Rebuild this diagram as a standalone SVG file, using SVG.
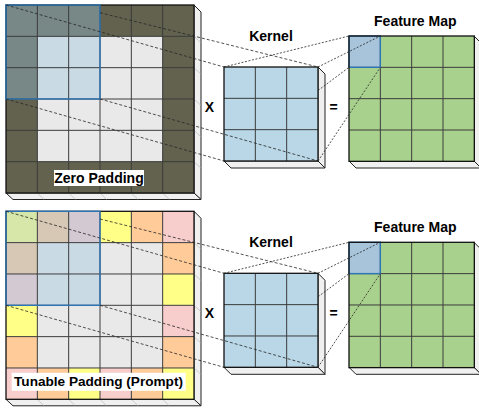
<svg xmlns="http://www.w3.org/2000/svg" width="479" height="410" viewBox="0 0 479 410">
<defs>
<style>
.lbl{font-family:"Liberation Sans",Arial,sans-serif;font-weight:bold;font-size:14px;fill:#000}
.face{fill:#f0f0f0;stroke:#222;stroke-width:1}
.tick{stroke:#b0b0b0;stroke-width:0.6;fill:none}
.grid{stroke:#3c3c3c;stroke-width:1;fill:none}
.outer{fill:none;stroke:#111;stroke-width:1.3}
.win{fill:none;stroke:#2e75b6;stroke-width:1.4}
.ov{fill:#99c3dc;fill-opacity:0.4}
.olive{fill:#62624f}
.inner{fill:#e9e9e9}
.Y{fill:#ffff88}
.O{fill:#ffcc99}
.P{fill:#f8cecc}
.kern{fill:#b9d7e6}
.fm{fill:#a9d18e}
.fmc{fill:#a7c4da}
.dl{fill:none;stroke:#262626;stroke-width:0.8;stroke-dasharray:3 2}
.dk{fill:none;stroke:#262626;stroke-width:0.8;stroke-dasharray:2 1.6}
</style>
</defs>

<!-- Top section -->
<g id="input-zero-padding">
  <polygon class="face" points="194,5 201,12 201,199.5 194,193"/>
  <polygon class="face" points="6,193 194,193 201,199.5 13,199.5"/>
  <path class="tick" d="M37.33,193 l6.7,6.5 M68.67,193 l6.7,6.5 M100,193 l6.7,6.5 M131.33,193 l6.7,6.5 M162.67,193 l6.7,6.5 M194,36.33 l7,6.5 M194,67.67 l7,6.5 M194,99 l7,6.5 M194,130.33 l7,6.5 M194,161.67 l7,6.5"/>
  <rect class="olive" x="6" y="5" width="188" height="188"/>
  <rect class="inner" x="37.33" y="36.33" width="125.33" height="125.33"/>
  <rect class="ov" x="6" y="5" width="94" height="94"/>
  <path class="grid" d="M37.33,5V193M68.67,5V193M100,5V193M131.33,5V193M162.67,5V193M6,36.33H194M6,67.67H194M6,99H194M6,130.33H194M6,161.67H194"/>
  <rect class="outer" x="6" y="5" width="188" height="188"/>
  <rect class="win" x="6" y="5" width="94" height="94"/>
  <rect x="54" y="170" width="90" height="16" fill="#fff"/>
  <text class="lbl" x="99" y="183" text-anchor="middle">Zero Padding</text>
</g>

<g id="kernel-1">
  <polygon class="face" points="318,67 325,74 325,168 318,161"/>
  <polygon class="face" points="224,161 318,161 325,168 231,168"/>
  <rect class="kern" x="224" y="67" width="94" height="94"/>
  <path class="grid" d="M255.33,67V161M286.67,67V161M224,98.33H318M224,129.67H318"/>
  <rect class="outer" x="224" y="67" width="94" height="94" stroke="#1d2a33"/>
  <text class="lbl" x="271" y="40.5" text-anchor="middle">Kernel</text>
</g>

<g id="operator-x-1"><text class="lbl" x="209.5" y="111.5" text-anchor="middle">X</text></g>
<g id="operator-eq-1"><text class="lbl" x="333.5" y="111.5" text-anchor="middle">=</text></g>

<g id="feature-map-1">
  <polygon class="face" points="474,36 481,43 481,168 474,161"/>
  <polygon class="face" points="349,161 474,161 481,168 356,168"/>
  <rect class="fm" x="349" y="36" width="125.33" height="125.33"/>
  <rect class="fmc" x="349" y="36" width="31.33" height="31.33"/>
  <path class="grid" d="M380.33,36V161.33M411.67,36V161.33M443,36V161.33M349,67.33H474.33M349,98.67H474.33M349,130H474.33" stroke="#1a1a1a"/>
  <rect class="win" x="349" y="36" width="31.33" height="31.33"/>
  <rect class="outer" x="349" y="36" width="125.33" height="125.33" stroke="#22331a"/>
  <text class="lbl" x="415.3" y="25.5" text-anchor="middle">Feature Map</text>
</g>

<!-- Bottom section -->
<g id="input-tunable-padding" transform="translate(0,206.3)">
  <polygon class="face" points="194,5 201,12 201,199.5 194,193"/>
  <polygon class="face" points="6,193 194,193 201,199.5 13,199.5"/>
  <path class="tick" d="M37.33,193 l6.7,6.5 M68.67,193 l6.7,6.5 M100,193 l6.7,6.5 M131.33,193 l6.7,6.5 M162.67,193 l6.7,6.5 M194,36.33 l7,6.5 M194,67.67 l7,6.5 M194,99 l7,6.5 M194,130.33 l7,6.5 M194,161.67 l7,6.5"/>
  <rect class="inner" x="6" y="5" width="188" height="188"/>
  <rect class="Y" x="6" y="5" width="31.33" height="31.33"/>
  <rect class="O" x="37.33" y="5" width="31.33" height="31.33"/>
  <rect class="P" x="68.67" y="5" width="31.33" height="31.33"/>
  <rect class="Y" x="100" y="5" width="31.33" height="31.33"/>
  <rect class="O" x="131.33" y="5" width="31.33" height="31.33"/>
  <rect class="P" x="162.67" y="5" width="31.33" height="31.33"/>
  <rect class="O" x="6" y="36.33" width="31.33" height="31.33"/>
  <rect class="P" x="6" y="67.67" width="31.33" height="31.33"/>
  <rect class="Y" x="6" y="99" width="31.33" height="31.33"/>
  <rect class="O" x="6" y="130.33" width="31.33" height="31.33"/>
  <rect class="O" x="162.67" y="36.33" width="31.33" height="31.33"/>
  <rect class="Y" x="162.67" y="67.67" width="31.33" height="31.33"/>
  <rect class="P" x="162.67" y="99" width="31.33" height="31.33"/>
  <rect class="O" x="162.67" y="130.33" width="31.33" height="31.33"/>
  <rect class="P" x="6" y="161.67" width="31.33" height="31.33"/>
  <rect class="O" x="37.33" y="161.67" width="31.33" height="31.33"/>
  <rect class="Y" x="68.67" y="161.67" width="31.33" height="31.33"/>
  <rect class="P" x="100" y="161.67" width="31.33" height="31.33"/>
  <rect class="O" x="131.33" y="161.67" width="31.33" height="31.33"/>
  <rect class="Y" x="162.67" y="161.67" width="31.33" height="31.33"/>
  <rect class="ov" x="6" y="5" width="94" height="94"/>
  <path class="grid" d="M37.33,5V193M68.67,5V193M100,5V193M131.33,5V193M162.67,5V193M6,36.33H194M6,67.67H194M6,99H194M6,130.33H194M6,161.67H194"/>
  <rect class="outer" x="6" y="5" width="188" height="188"/>
  <rect class="win" x="6" y="5" width="94" height="94"/>
  <rect x="11.7" y="166.5" width="174" height="18" fill="#fff"/>
  <text class="lbl" x="98.5" y="180.2" text-anchor="middle" style="font-size:13.6px">Tunable Padding (Prompt)</text>
</g>

<g id="kernel-2" transform="translate(0,206.3)">
  <polygon class="face" points="318,67 325,74 325,168 318,161"/>
  <polygon class="face" points="224,161 318,161 325,168 231,168"/>
  <rect class="kern" x="224" y="67" width="94" height="94"/>
  <path class="grid" d="M255.33,67V161M286.67,67V161M224,98.33H318M224,129.67H318"/>
  <rect class="outer" x="224" y="67" width="94" height="94" stroke="#1d2a33"/>
  <text class="lbl" x="271" y="40.5" text-anchor="middle">Kernel</text>
</g>

<g id="operator-x-2"><text class="lbl" x="209.5" y="317.5" text-anchor="middle">X</text></g>
<g id="operator-eq-2"><text class="lbl" x="333.5" y="317.5" text-anchor="middle">=</text></g>

<g id="feature-map-2" transform="translate(0,206.3)">
  <polygon class="face" points="474,36 481,43 481,168 474,161"/>
  <polygon class="face" points="349,161 474,161 481,168 356,168"/>
  <rect class="fm" x="349" y="36" width="125.33" height="125.33"/>
  <rect class="fmc" x="349" y="36" width="31.33" height="31.33"/>
  <path class="grid" d="M380.33,36V161.33M411.67,36V161.33M443,36V161.33M349,67.33H474.33M349,98.67H474.33M349,130H474.33" stroke="#1a1a1a"/>
  <rect class="win" x="349" y="36" width="31.33" height="31.33"/>
  <rect class="outer" x="349" y="36" width="125.33" height="125.33" stroke="#22331a"/>
  <text class="lbl" x="415.3" y="25.5" text-anchor="middle">Feature Map</text>
</g>

<g id="connectors">
  <g id="connectors-top">
    <line class="dl" x1="6" y1="5" x2="224" y2="67"/>
    <line class="dl" x1="100" y1="12.7" x2="318" y2="67"/>
    <line class="dl" x1="6" y1="99" x2="224" y2="161"/>
    <line class="dl" x1="100" y1="99" x2="318" y2="161"/>
    <line class="dk" x1="224" y1="67" x2="349" y2="36"/>
    <line class="dk" x1="318" y1="67" x2="380.33" y2="36"/>
    <line class="dk" x1="318" y1="90.5" x2="349" y2="67.33"/>
    <line class="dk" x1="318" y1="161" x2="380.33" y2="67.33"/>
  </g>
  <g id="connectors-bottom" transform="translate(0,206.3)">
    <line class="dl" x1="6" y1="5" x2="224" y2="67"/>
    <line class="dl" x1="100" y1="12.7" x2="318" y2="67"/>
    <line class="dl" x1="6" y1="99" x2="224" y2="161"/>
    <line class="dl" x1="100" y1="99" x2="318" y2="161"/>
    <line class="dk" x1="224" y1="67" x2="349" y2="36"/>
    <line class="dk" x1="318" y1="67" x2="380.33" y2="36"/>
    <line class="dk" x1="318" y1="90.5" x2="349" y2="67.33"/>
    <line class="dk" x1="318" y1="161" x2="380.33" y2="67.33"/>
  </g>
</g>
</svg>
